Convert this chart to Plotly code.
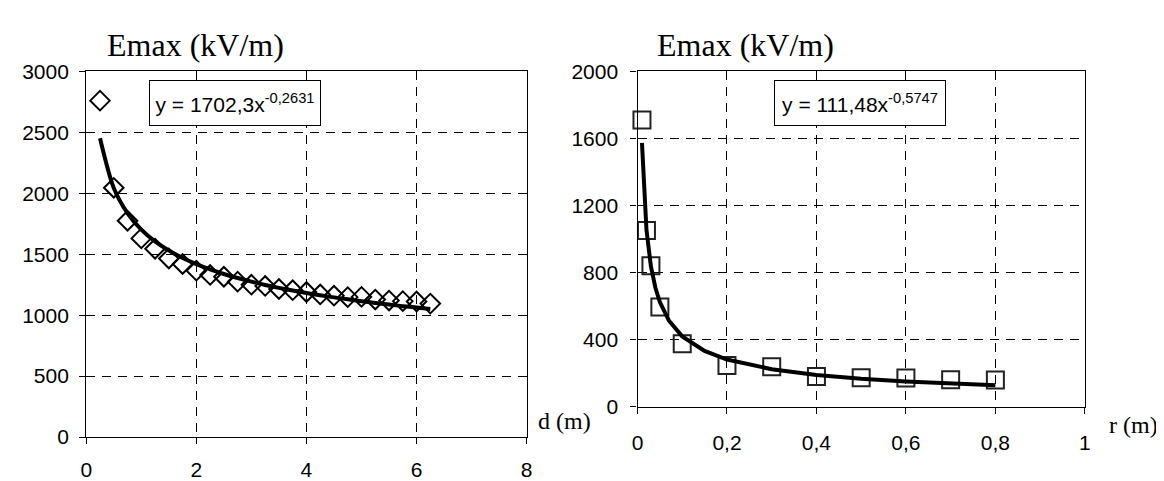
import plotly.graph_objects as go

# ---- Left chart: Emax vs distance d ----
d_m = [0.25, 0.5, 0.75, 1.0, 1.25, 1.5, 1.75, 2.0, 2.25, 2.5, 2.75, 3.0, 3.25,
       3.5, 3.75, 4.0, 4.25, 4.5, 4.75, 5.0, 5.25, 5.5, 5.75, 6.0, 6.25]
emax_d = [2760, 2045, 1775, 1630, 1545, 1465, 1420, 1365, 1330, 1315, 1275, 1250, 1240,
          1215, 1205, 1190, 1170, 1160, 1148, 1150, 1128, 1120, 1115, 1112, 1095]
# power trendline y = 1702,3 x^-0,2631 (values read at the data positions)
trend_d_y = [2452, 2043, 1836, 1702, 1605, 1530, 1469, 1419, 1375, 1338, 1305, 1275, 1248,
             1224, 1202, 1182, 1163, 1146, 1130, 1115, 1100, 1087, 1074, 1063, 1051]

# ---- Right chart: Emax vs radius r ----
r_m = [0.01, 0.02, 0.03, 0.05, 0.1, 0.2, 0.3, 0.4, 0.5, 0.6, 0.7, 0.8]
emax_r = [1710, 1050, 840, 595, 375, 245, 238, 180, 172, 170, 160, 158]
# power trendline y = 111,48 x^-0,5747
trend_r_x = [0.01, 0.015, 0.02, 0.03, 0.04, 0.05, 0.07, 0.1, 0.15, 0.2, 0.3, 0.4, 0.5, 0.6, 0.7, 0.8]
trend_r_y = [1573, 1246, 1056, 836, 709, 624, 514, 419, 332, 281, 223, 189, 166, 150, 137, 127]

left_xticks = [0, 2, 4, 6, 8]
left_yticks = [0, 500, 1000, 1500, 2000, 2500, 3000]
right_xticks = [0, 0.2, 0.4, 0.6, 0.8, 1]
right_xtext = ["0", "0,2", "0,4", "0,6", "0,8", "1"]
right_yticks = [0, 400, 800, 1200, 1600, 2000]

eq_left = "y = 1702,3x<sup>-0,2631</sup>"
eq_right = "y = 111,48x<sup>-0,5747</sup>"
title_text = "Emax (kV/m)"

W, H = 1164, 481
SANS = "Liberation Sans, Arial, sans-serif"
SERIF = "Liberation Serif, Times New Roman, serif"

fig = go.Figure()

fig.add_trace(go.Scatter(x=d_m, y=emax_d, mode="markers", xaxis="x", yaxis="y",
                         marker=dict(symbol="diamond-open", size=15, color="black",
                                     line=dict(width=2, color="black")),
                         cliponaxis=False, showlegend=False))
fig.add_trace(go.Scatter(x=d_m, y=trend_d_y, mode="lines", xaxis="x", yaxis="y",
                         line=dict(color="black", width=4, shape="spline", smoothing=0.8),
                         showlegend=False))

fig.add_trace(go.Scatter(x=r_m, y=emax_r, mode="markers", xaxis="x2", yaxis="y2",
                         marker=dict(symbol="square-open", size=17, color="#222222",
                                     line=dict(width=2, color="#222222")),
                         cliponaxis=False, showlegend=False))
fig.add_trace(go.Scatter(x=trend_r_x, y=trend_r_y, mode="lines", xaxis="x2", yaxis="y2",
                         line=dict(color="black", width=4),
                         showlegend=False))

axis_common = dict(showline=True, linecolor="black", linewidth=1.3, mirror=True,
                   ticks="outside", ticklen=6, tickcolor="black", tickwidth=1.3,
                   showgrid=True, gridcolor="black", gridwidth=1, griddash="9px,7px",
                   zeroline=False, tickfont=dict(family=SANS, size=21, color="black"))

def px_x(p):
    return p / W

def px_y(p):
    return 1 - p / H

fig.update_layout(
    width=W, height=H, margin=dict(l=0, r=0, t=0, b=0),
    paper_bgcolor="white", plot_bgcolor="white",
    xaxis=dict(domain=[px_x(73), px_x(518)], range=[0, 8], tickvals=left_xticks,
               ticklabelstandoff=8, anchor="y", **axis_common),
    yaxis=dict(domain=[px_y(438), px_y(54)], range=[0, 3000], tickvals=left_yticks,
               ticklabelstandoff=6, anchor="x", **axis_common),
    xaxis2=dict(domain=[px_x(630), px_x(1082)], range=[0, 1], tickvals=right_xticks,
                ticktext=right_xtext, ticklabelstandoff=11, anchor="y2", **axis_common),
    yaxis2=dict(domain=[px_y(406), px_y(54)], range=[0, 2000], tickvals=right_yticks,
                ticklabelstandoff=8, anchor="x2", **axis_common),
)

annos = []
# titles
for xl in (92, 648):
    annos.append(dict(text=title_text, xref="paper", yref="paper", x=px_x(xl), y=px_y(26),
                      xanchor="left", yanchor="middle", showarrow=False,
                      font=dict(family=SERIF, size=32, color="black")))
# axis names
annos.append(dict(text="d (m)", xref="paper", yref="paper", x=px_x(527), y=px_y(421),
                  xanchor="left", yanchor="middle", showarrow=False,
                  font=dict(family=SERIF, size=24, color="black")))
annos.append(dict(text="r (m)", xref="paper", yref="paper", x=px_x(1104), y=px_y(425),
                  xanchor="left", yanchor="middle", showarrow=False,
                  font=dict(family=SERIF, size=24, color="black")))
# equation boxes
for xl, txt in ((136, eq_left), (768, eq_right)):
    annos.append(dict(text=txt, xref="paper", yref="paper", x=px_x(xl), y=px_y(63),
                      xanchor="left", yanchor="top", showarrow=False,
                      width=170, height=44, borderpad=0, align="center", valign="middle",
                      bordercolor="black", borderwidth=1, bgcolor="white",
                      font=dict(family=SANS, size=21, color="black")))
fig.update_layout(annotations=annos)

fig.write_html("out.html")
